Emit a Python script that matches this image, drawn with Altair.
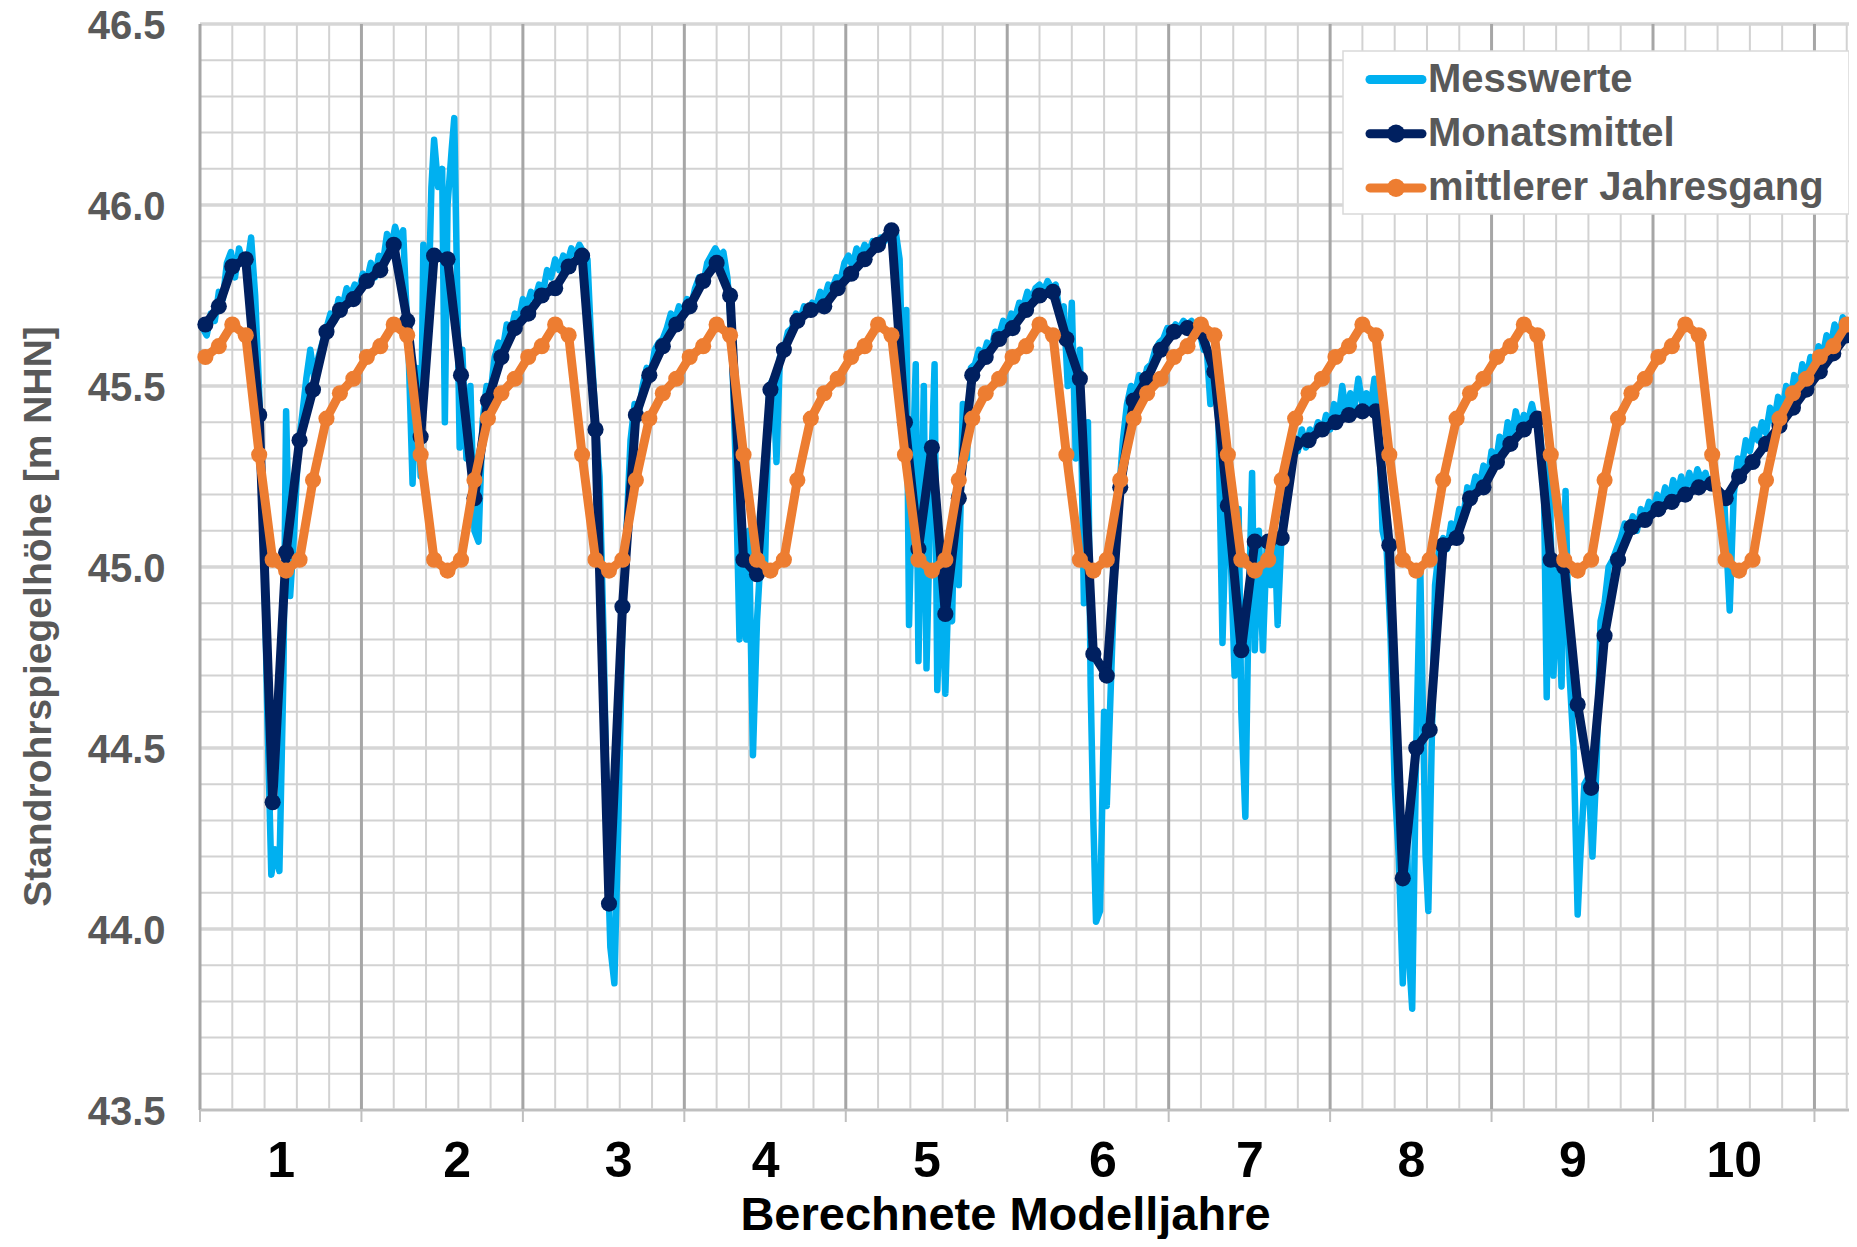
import altair as alt
import pandas as pd
import numpy as np

# ---------------- data ----------------
# Monatsmittel: one value per month (month index 0..122)
monatsmittel = [
    45.67, 45.72, 45.83, 45.85, 45.42, 44.35, 45.04, 45.35, 45.49, 45.65, 45.71, 45.74,
    45.79, 45.82, 45.89, 45.68, 45.36, 45.86, 45.85, 45.53, 45.19, 45.46, 45.58, 45.66,
    45.70, 45.75, 45.77, 45.83, 45.86, 45.38, 44.07, 44.89, 45.42, 45.53, 45.61, 45.67,
    45.72, 45.79, 45.84, 45.75, 45.02, 44.98, 45.49, 45.60, 45.68, 45.71, 45.72, 45.77,
    45.81, 45.85, 45.89, 45.93, 45.40, 45.05, 45.33, 44.87, 45.19, 45.53, 45.58, 45.63,
    45.66, 45.71, 45.75, 45.76, 45.63, 45.52, 44.76, 44.70, 45.22, 45.46, 45.52, 45.60,
    45.65, 45.66, 45.65, 45.54, 45.17, 44.77, 45.07, 45.07, 45.08, 45.34, 45.35, 45.38,
    45.40, 45.42, 45.43, 45.43, 45.06, 44.14, 44.50, 44.55, 45.06, 45.08, 45.19, 45.22,
    45.29, 45.34, 45.38, 45.41, 45.02, 45.00, 44.62, 44.39, 44.81, 45.02, 45.11, 45.13,
    45.16, 45.18, 45.20, 45.22, 45.23, 45.19, 45.25, 45.29, 45.34, 45.39, 45.44, 45.49,
    45.54, 45.59, 45.64,
]

# mittlerer Jahresgang: mean annual cycle (12 monthly values), repeated every year
jahresgang = [45.58, 45.61, 45.67, 45.64, 45.31, 45.02, 44.99, 45.02, 45.24, 45.41, 45.48, 45.52]

# Messwerte: (month position, value)
messwerte = [
    (-0.2, 45.66), (0.1, 45.64), (0.4, 45.70), (0.7, 45.68), (1.0, 45.76), (1.3, 45.74), (1.6, 45.84),
    (1.9, 45.87), (2.2, 45.80), (2.5, 45.88), (2.8, 45.84), (3.1, 45.83), (3.4, 45.91), (3.7, 45.75),
    (4.0, 45.48), (4.3, 45.15), (4.6, 44.60), (4.9, 44.15), (5.2, 44.22), (5.5, 44.16), (5.8, 44.70),
    (6.0, 45.43), (6.3, 44.92), (6.6, 45.10), (6.9, 45.33), (7.2, 45.42), (7.5, 45.52), (7.8, 45.60),
    (8.1, 45.52), (8.4, 45.58), (8.7, 45.62), (9.0, 45.66), (9.3, 45.70), (9.6, 45.68), (9.9, 45.74),
    (10.2, 45.72), (10.5, 45.77), (10.8, 45.75), (11.1, 45.78), (11.4, 45.76), (11.7, 45.81),
    (12.0, 45.79), (12.3, 45.84), (12.6, 45.80), (12.9, 45.86), (13.2, 45.84), (13.5, 45.92), (13.8, 45.88),
    (14.1, 45.94), (14.4, 45.90), (14.7, 45.93), (14.9, 45.75), (15.1, 45.60), (15.4, 45.23), (15.7, 45.55),
    (16.0, 45.25), (16.2, 45.89), (16.5, 45.60), (16.8, 46.05), (17.0, 46.18), (17.3, 46.05), (17.6, 46.10),
    (17.8, 45.40), (18.0, 46.00), (18.3, 46.15), (18.5, 46.24), (18.7, 45.80), (18.9, 45.33), (19.1, 45.60),
    (19.4, 45.30), (19.7, 45.50), (20.0, 45.10), (20.3, 45.07), (20.6, 45.40), (20.9, 45.50), (21.2, 45.48),
    (21.5, 45.58), (21.8, 45.62), (22.1, 45.60), (22.4, 45.67), (22.7, 45.65), (23.0, 45.70), (23.3, 45.68),
    (23.6, 45.74), (23.9, 45.72),
    (24.2, 45.76), (24.5, 45.74), (24.8, 45.78), (25.1, 45.76), (25.4, 45.82), (25.7, 45.80), (26.0, 45.85),
    (26.3, 45.82), (26.6, 45.86), (26.9, 45.84), (27.2, 45.88), (27.5, 45.86), (27.8, 45.89), (28.1, 45.87),
    (28.4, 45.85), (28.7, 45.60), (29.0, 45.40), (29.3, 45.25), (29.6, 44.80), (29.9, 44.20), (30.1, 43.95),
    (30.4, 43.85), (30.7, 44.30), (31.0, 44.85), (31.3, 45.10), (31.6, 45.35), (31.9, 45.45), (32.2, 45.42),
    (32.5, 45.50), (32.8, 45.55), (33.1, 45.53), (33.4, 45.60), (33.7, 45.62), (34.0, 45.63), (34.3, 45.66),
    (34.6, 45.70), (34.9, 45.68), (35.2, 45.72), (35.5, 45.70), (35.8, 45.74),
    (36.1, 45.72), (36.4, 45.77), (36.7, 45.80), (37.0, 45.78), (37.3, 45.84), (37.6, 45.86), (37.9, 45.88),
    (38.2, 45.86), (38.5, 45.87), (38.8, 45.80), (39.1, 45.65), (39.4, 45.30), (39.7, 44.80), (40.0, 45.00),
    (40.2, 44.80), (40.4, 45.10), (40.7, 44.48), (41.0, 44.85), (41.3, 45.05), (41.6, 45.00), (41.9, 45.50),
    (42.2, 45.52), (42.45, 45.29), (42.7, 45.58), (43.0, 45.60), (43.3, 45.65), (43.6, 45.66), (43.9, 45.70),
    (44.2, 45.68), (44.5, 45.72), (44.8, 45.71), (45.1, 45.73), (45.4, 45.72), (45.7, 45.76), (46.0, 45.74),
    (46.3, 45.78), (46.6, 45.77), (46.9, 45.80), (47.2, 45.79), (47.5, 45.84),
    (47.8, 45.86), (48.1, 45.83), (48.4, 45.88), (48.7, 45.86), (49.0, 45.89), (49.3, 45.87), (49.6, 45.90),
    (49.9, 45.88), (50.2, 45.91), (50.5, 45.90), (50.8, 45.93), (51.1, 45.92), (51.3, 45.93), (51.6, 45.85),
    (51.9, 45.40), (52.1, 45.71), (52.3, 44.84), (52.6, 45.30), (52.8, 45.56), (53.0, 44.74), (53.2, 45.10),
    (53.4, 45.50), (53.6, 44.72), (53.9, 45.20), (54.2, 45.56), (54.4, 44.66), (54.7, 45.00), (55.0, 44.65),
    (55.2, 44.90), (55.5, 44.85), (55.7, 45.20), (56.0, 44.95), (56.3, 45.45), (56.6, 45.30), (56.9, 45.55),
    (57.2, 45.56), (57.5, 45.60), (57.8, 45.58), (58.1, 45.62), (58.4, 45.60), (58.7, 45.65), (59.0, 45.64),
    (59.3, 45.68), (59.6, 45.66), (59.9, 45.70),
    (60.2, 45.69), (60.5, 45.73), (60.8, 45.72), (61.1, 45.76), (61.4, 45.74), (61.7, 45.77), (62.0, 45.78),
    (62.3, 45.76), (62.6, 45.79), (62.9, 45.77), (63.2, 45.78), (63.5, 45.70), (63.8, 45.72), (64.1, 45.50),
    (64.4, 45.73), (64.7, 45.30), (65.0, 45.60), (65.3, 44.90), (65.6, 45.40), (65.8, 44.67), (66.0, 44.30),
    (66.2, 44.02), (66.5, 44.05), (66.8, 44.60), (67.0, 44.34), (67.3, 44.67), (67.6, 45.00), (67.9, 45.20),
    (68.2, 45.35), (68.5, 45.45), (68.8, 45.50), (69.1, 45.48), (69.4, 45.53), (69.7, 45.50), (70.0, 45.55),
    (70.3, 45.56), (70.6, 45.60), (70.9, 45.62), (71.2, 45.63), (71.5, 45.66), (71.8, 45.65),
    (72.1, 45.67), (72.4, 45.66), (72.7, 45.68), (73.0, 45.67), (73.3, 45.68), (73.6, 45.66), (73.9, 45.65),
    (74.2, 45.60), (74.4, 45.62), (74.7, 45.45), (75.0, 45.55), (75.3, 45.40), (75.6, 44.79), (75.9, 45.20),
    (76.2, 45.05), (76.5, 44.70), (76.8, 45.16), (77.0, 44.60), (77.3, 44.31), (77.5, 44.80), (77.8, 45.26),
    (78.0, 44.77), (78.3, 45.10), (78.6, 44.77), (78.9, 45.07), (79.2, 44.95), (79.5, 45.06), (79.7, 44.84),
    (80.0, 45.10), (80.3, 45.20), (80.6, 45.35), (80.9, 45.36), (81.2, 45.32), (81.5, 45.38), (81.8, 45.33),
    (82.1, 45.38), (82.4, 45.36), (82.7, 45.40), (83.0, 45.37), (83.3, 45.42), (83.6, 45.38),
    (83.9, 45.45), (84.2, 45.40), (84.5, 45.50), (84.8, 45.42), (85.1, 45.48), (85.4, 45.44), (85.7, 45.52),
    (86.0, 45.45), (86.3, 45.48), (86.6, 45.44), (86.9, 45.52), (87.2, 45.40), (87.5, 45.10), (87.8, 45.05),
    (88.1, 44.80), (88.4, 44.40), (88.7, 44.20), (89.0, 43.85), (89.3, 44.30), (89.5, 43.90), (89.7, 43.78),
    (90.0, 44.50), (90.3, 45.00), (90.5, 44.60), (90.7, 44.20), (90.9, 44.05), (91.2, 44.60), (91.4, 44.95),
    (91.7, 45.05), (92.0, 45.08), (92.3, 45.05), (92.6, 45.12), (92.9, 45.10), (93.2, 45.16), (93.5, 45.14),
    (93.8, 45.22), (94.1, 45.20), (94.4, 45.25), (94.7, 45.22), (95.0, 45.28), (95.3, 45.24), (95.6, 45.32),
    (95.9, 45.28), (96.2, 45.36), (96.5, 45.32), (96.8, 45.40), (97.1, 45.36), (97.4, 45.43), (97.7, 45.38),
    (98.0, 45.42), (98.3, 45.40), (98.6, 45.45), (98.9, 45.40), (99.2, 45.38), (99.5, 45.20), (99.7, 44.64),
    (99.9, 45.30), (100.2, 44.70), (100.5, 45.00), (100.8, 44.67), (101.1, 45.21), (101.4, 44.70),
    (101.7, 44.50), (102.0, 44.04), (102.2, 44.20), (102.5, 44.40), (102.8, 44.42), (103.1, 44.20),
    (103.4, 44.45), (103.7, 44.85), (104.0, 44.90), (104.3, 45.00), (104.6, 45.02), (104.9, 45.05),
    (105.2, 45.08), (105.5, 45.12), (105.8, 45.10), (106.1, 45.14), (106.4, 45.10), (106.7, 45.16),
    (107.0, 45.14), (107.3, 45.18),
    (107.6, 45.15), (107.9, 45.20), (108.2, 45.17), (108.5, 45.22), (108.8, 45.18), (109.1, 45.24),
    (109.4, 45.20), (109.7, 45.25), (110.0, 45.21), (110.3, 45.26), (110.6, 45.22), (110.9, 45.27),
    (111.2, 45.24), (111.5, 45.26), (111.8, 45.22), (112.1, 45.25), (112.5, 45.20), (112.9, 45.18),
    (113.3, 44.88), (113.6, 45.20), (113.9, 45.30), (114.2, 45.28), (114.5, 45.35), (114.8, 45.32),
    (115.1, 45.38), (115.4, 45.35), (115.7, 45.40), (116.0, 45.37), (116.3, 45.44), (116.6, 45.40),
    (116.9, 45.47), (117.2, 45.43), (117.5, 45.50), (117.8, 45.46), (118.1, 45.53), (118.4, 45.49),
    (118.7, 45.56), (119.0, 45.52), (119.3, 45.58), (119.6, 45.55), (119.9, 45.61), (120.2, 45.58),
    (120.5, 45.64), (120.8, 45.61), (121.1, 45.67), (121.4, 45.63), (121.7, 45.69), (122.0, 45.66),
    (122.3, 45.68),
]

y_ticks = [43.5, 44.0, 44.5, 45.0, 45.5, 46.0, 46.5]
year_label_pos = [0.5, 1.59, 2.59, 3.5, 4.5, 5.59, 6.5, 7.5, 8.5, 9.5]
legend_labels = ["Messwerte", "Monatsmittel", "mittlerer Jahresgang"]

# ---------------- styling ----------------
C_MESS = "#00B0F0"
C_MON = "#002060"
C_JG = "#ED7D31"
C_TXT = "#595959"
FONT = "Liberation Sans"

W, H = 1649, 1086
X_MAX = 10.214
MONTH_OFFSET = 0.4

xs = alt.Scale(domain=[0, X_MAX], nice=False, zero=False)
ys = alt.Scale(domain=[43.5, 46.5], nice=False, zero=False)

x_axis = alt.Axis(
    values=year_label_pos, labelExpr="floor(datum.value) + 1",
    labelFont=FONT, labelFontSize=50, labelFontWeight="bold", labelColor="black",
    ticks=False, domain=False, grid=False, labelPadding=26, labelFlush=False, labelOverlap=False,
    title="Berechnete Modelljahre", titleFont=FONT, titleFontSize=47, titleFontWeight="bold",
    titleColor="black", titleX=805, titleY=119, titleAlign="center", titleBaseline="alphabetic",
)
y_axis = alt.Axis(
    values=y_ticks, format=".1f",
    labelFont=FONT, labelFontSize=40, labelFontWeight="bold", labelColor=C_TXT,
    ticks=False, domain=False, grid=False, labelPadding=35, labelOffset=2,
    title="Standrohrspiegelhöhe [m NHN]", titleFont=FONT, titleFontSize=39, titleFontWeight="bold",
    titleColor=C_TXT, titleAngle=270, titleX=-162, titleY=592, titleAlign="center",
    titleBaseline="middle",
)

def X(field="x"):
    return alt.X(f"{field}:Q", scale=xs, axis=x_axis)

def Y(field):
    return alt.Y(f"{field}:Q", scale=ys, axis=y_axis)

# ---------------- frames ----------------
n = len(monatsmittel)
df_mon = pd.DataFrame({"t": np.arange(n), "v": monatsmittel})
df_mon["x"] = (df_mon["t"] + MONTH_OFFSET) / 12

df_jg = pd.DataFrame({"t": np.arange(n), "v": (jahresgang * 11)[:n]})
df_jg["x"] = (df_jg["t"] + MONTH_OFFSET) / 12

df_mess = pd.DataFrame(messwerte, columns=["t", "v"])
df_mess["x"] = (df_mess["t"] + MONTH_OFFSET) / 12

years = list(range(0, 11))
minor_x = [round(k * 0.2, 2) for k in range(0, 52) if k % 5 != 0]
minor_y = [round(43.5 + k * 0.1, 2) for k in range(0, 31) if k % 5 != 0]

df_vmaj = pd.DataFrame({"x": years})
df_vmin = pd.DataFrame({"x": minor_x})
df_hmaj = pd.DataFrame({"y": y_ticks})
df_hmin = pd.DataFrame({"y": minor_y})

# ---------------- grid ----------------
hmin = alt.Chart(df_hmin).mark_rule(color="#D2D2D2", strokeWidth=2).encode(y=Y("y"))
hmaj = alt.Chart(df_hmaj).mark_rule(color="#D6D6D6", strokeWidth=3.5).encode(y=Y("y"))
vmin = alt.Chart(df_vmin).mark_rule(color="#D2D2D2", strokeWidth=2).encode(x=X())
vmaj = alt.Chart(df_vmaj).mark_rule(color="#A6A6A6", strokeWidth=3).encode(x=X())
ticks = alt.Chart(df_vmaj).mark_rule(color="#BFBFBF", strokeWidth=2).encode(
    x=X(), y=alt.value(H), y2=alt.value(H + 12))
baseline = alt.Chart(df_hmaj[df_hmaj.y == 43.5]).mark_rule(color="#BFBFBF", strokeWidth=2).encode(y=Y("y"))

# ---------------- series ----------------
mess = alt.Chart(df_mess).mark_line(color=C_MESS, strokeWidth=6.5, strokeJoin="round",
                                    strokeCap="round").encode(x=X(), y=Y("v"))
mon = alt.Chart(df_mon).mark_line(
    color=C_MON, strokeWidth=9, strokeJoin="round",
    point=alt.OverlayMarkDef(filled=True, color=C_MON, size=260, opacity=1),
).encode(x=X(), y=Y("v"))
jg = alt.Chart(df_jg).mark_line(
    color=C_JG, strokeWidth=9, strokeJoin="round",
    point=alt.OverlayMarkDef(filled=True, color=C_JG, size=260, opacity=1),
).encode(x=X(), y=Y("v"))

# ---------------- legend (drawn) ----------------
df_leg = pd.DataFrame({"label": legend_labels, "color": [C_MESS, C_MON, C_JG]})
LEG_TOP, LEG_STEP = 55.5, 54.2
leg_layers = [
    alt.Chart(df_leg.iloc[:1]).mark_rect(fill="white", stroke="#D9D9D9", strokeWidth=1.5).encode(
        x=alt.value(1143), x2=alt.value(1649), y=alt.value(27), y2=alt.value(190))
]
for i in range(len(legend_labels)):
    row = df_leg.iloc[[i]]
    py = LEG_TOP + i * LEG_STEP
    leg_layers.append(
        alt.Chart(row).mark_rule(strokeWidth=9, strokeCap="round", color=df_leg.color[i]).encode(
            x=alt.value(1170), x2=alt.value(1222), y=alt.value(py)))
    if i > 0:
        leg_layers.append(
            alt.Chart(row).mark_circle(size=330, opacity=1, color=df_leg.color[i]).encode(
                x=alt.value(1196), y=alt.value(py)))
    leg_layers.append(
        alt.Chart(row).mark_text(align="left", baseline="middle", font=FONT, fontSize=40,
                                 fontWeight="bold", color=C_TXT).encode(
            x=alt.value(1228), y=alt.value(py), text="label:N"))

chart = alt.layer(
    hmin, vmin, hmaj, vmaj, baseline, ticks,
    mess, mon, jg,
    *leg_layers,
).properties(
    width=W, height=H,
    autosize=alt.AutoSizeParams(type="none"),
    padding={"left": 192, "top": 16, "right": 0, "bottom": 129},
).configure_view(stroke=None).configure(background="white")

chart.save("out.html", embed_options={"renderer": "svg", "actions": False})
